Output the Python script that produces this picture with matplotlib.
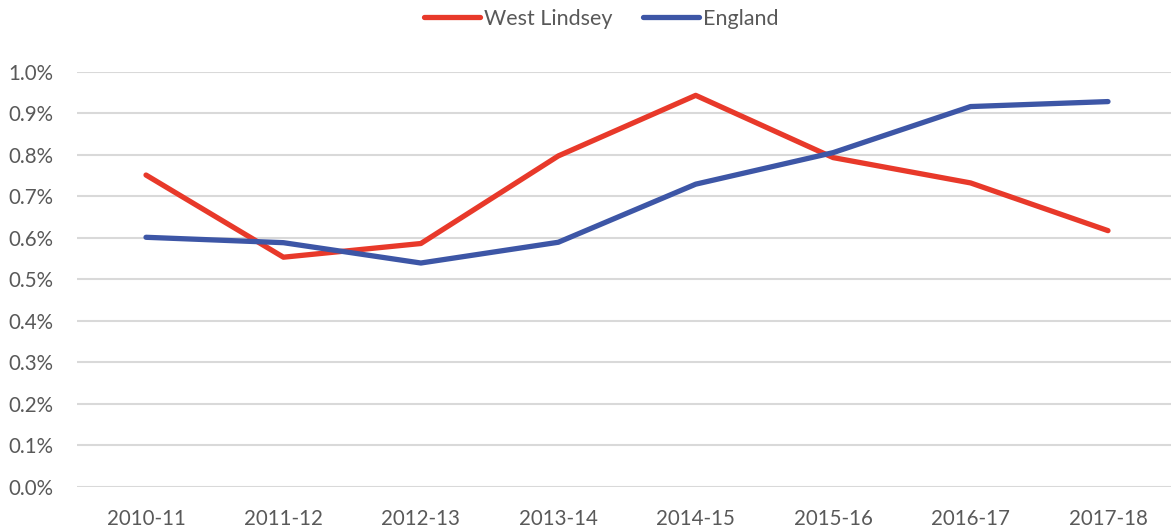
import numpy as np
import matplotlib.pyplot as plt
from matplotlib.ticker import FuncFormatter

years = ["2010-11", "2011-12", "2012-13", "2013-14", "2014-15", "2015-16", "2016-17", "2017-18"]
west_lindsey = [0.751, 0.553, 0.586, 0.797, 0.943, 0.793, 0.732, 0.617]
england = [0.601, 0.588, 0.539, 0.589, 0.729, 0.805, 0.916, 0.928]

plt.rcParams['font.family'] = ['Lato', 'DejaVu Sans']

fig = plt.figure(figsize=(11.71, 5.30), dpi=100)
ax = fig.add_axes([77.3 / 1171, 43.3 / 530, 1099.4 / 1171, 415 / 530])

x = np.arange(len(years))
ax.plot(x, west_lindsey, color="#E8392A", lw=3.8, solid_capstyle="round", label="West Lindsey", zorder=3)
ax.plot(x, england, color="#3D56A6", lw=3.8, solid_capstyle="round", label="England", zorder=3)

ax.set_xlim(-0.5, len(years) - 0.5)
ax.set_ylim(0, 1.0)
ax.set_yticks(np.arange(0, 1.01, 0.1))
ax.yaxis.set_major_formatter(FuncFormatter(lambda v, p: "%.1f%%" % v))
ax.set_xticks(x)
ax.set_xticklabels(years)
ax.grid(axis="y", color="#D9D9D9", lw=1.5)
ax.set_axisbelow(True)
for s in ax.spines.values():
    s.set_visible(False)
ax.tick_params(length=0, labelsize=14.8, labelcolor="#595959")
ax.tick_params(axis="y", pad=17)
ax.tick_params(axis="x", pad=16)

fig.legend(loc="center", bbox_to_anchor=(601 / 1171, 1 - 19 / 530), ncol=2, frameon=False,
           fontsize=15.5, labelcolor="#595959", handlelength=2.6, handletextpad=0.2,
           columnspacing=1.4)

fig.savefig("out.png", dpi=100)
